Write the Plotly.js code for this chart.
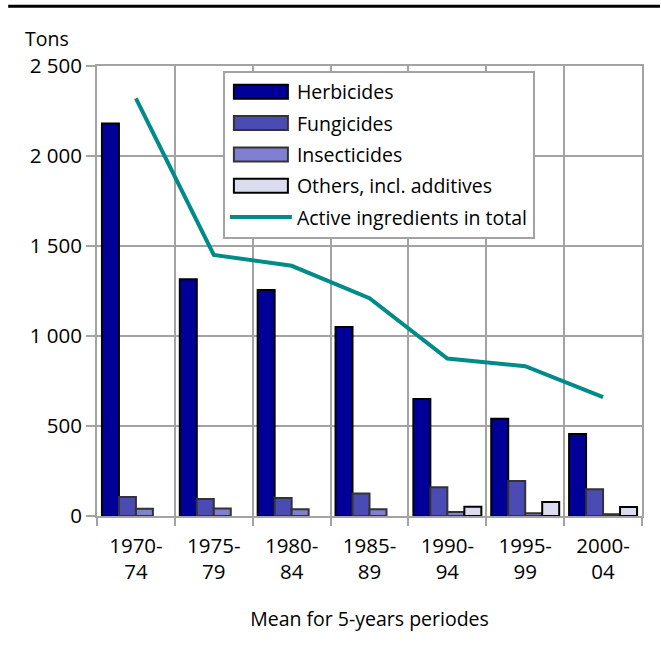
<!DOCTYPE html>
<html>
<head>
<meta charset="utf-8">
<script src="https://cdn.plot.ly/plotly-3.0.1.min.js"></script>
<style>html,body{margin:0;padding:0;background:#fff;}#chart{width:661px;height:647px;}</style>
</head>
<body>
<div id="chart"></div>
<script>
var periods = ["1970-74", "1975-79", "1980-84", "1985-89", "1990-94", "1995-99", "2000-04"];
var herbicides = [2180, 1315, 1255, 1050, 650, 540, 455];
var fungicides = [105, 95, 100, 125, 160, 195, 148];
var insecticides = [40, 42, 38, 37, 22, 15, 10];
var others = [null, null, null, null, 52, 78, 50];
var total = [2320, 1450, 1390, 1210, 875, 832, 660];
var yTickVals = [0, 500, 1000, 1500, 2000, 2500];
var yTickText = ["0", "500", "1 000", "1 500", "2 000", "2 500"];

var cats = periods.map(function (p) { return p.replace("-", "-<br>"); });
var FONT = "Open Sans, Noto Sans, sans-serif";
var GRID = "#a3a3a3";

function barTrace(name, vals, fill, line, grp) {
  return {
    type: "bar", name: name, x: cats, y: vals, legendgroup: grp,
    marker: { color: fill, line: { color: line, width: 2 } },
    hoverinfo: "skip"
  };
}

var data = [
  barTrace("Herbicides", herbicides, "#000099", "#000000", "a"),
  barTrace("Fungicides", fungicides, "#4b4bb4", "#333333", "b"),
  barTrace("Insecticides", insecticides, "#8080d2", "#333333", "c"),
  barTrace("Others, incl. additives", others, "#dcdcf0", "#000000", "d"),
  {
    type: "scatter", mode: "lines", name: "Active ingredients in total",
    x: cats, y: total, legendgroup: "e",
    line: { color: "#008b8b", width: 4 }, hoverinfo: "skip"
  }
];

var layout = {
  width: 661, height: 647,
  margin: { l: 97, r: 19, t: 66, b: 131 },
  paper_bgcolor: "#ffffff", plot_bgcolor: "#ffffff",
  font: { family: FONT, size: 19, color: "#000000" },
  barmode: "group", bargap: 0.127, bargroupgap: 0,
  showlegend: true,
  legend: {
    x: 0.231, y: 0.99, xanchor: "left", yanchor: "top",
    bgcolor: "#ffffff", bordercolor: GRID, borderwidth: 2,
    font: { family: FONT, size: 19.5, color: "#000000" },
    tracegroupgap: 3, itemwidth: 62
  },
  xaxis: {
    type: "category", tickson: "boundaries",
    ticks: "outside", ticklen: 8, tickwidth: 2, tickcolor: GRID,
    showgrid: true, gridcolor: GRID, gridwidth: 2,
    showline: true, linecolor: GRID, linewidth: 2, mirror: true,
    tickfont: { family: FONT, size: 20.5, color: "#000000" },
    ticklabelstandoff: 10,
    title: { text: "Mean for 5-years periodes", font: { family: FONT, size: 19.5, color: "#000000" }, standoff: 28 },
    fixedrange: true
  },
  yaxis: {
    range: [0, 2500], tickvals: yTickVals, ticktext: yTickText,
    ticks: "outside", ticklen: 9, tickwidth: 2, tickcolor: GRID,
    showgrid: true, gridcolor: GRID, gridwidth: 2, zeroline: false,
    showline: true, linecolor: GRID, linewidth: 2, mirror: true,
    tickfont: { family: FONT, size: 20.5, color: "#000000" },
    fixedrange: true
  },
  shapes: [
    { type: "line", xref: "paper", yref: "paper", x0: -0.163, x1: 1.033, y0: 1.133, y1: 1.133,
      line: { color: "#000000", width: 3 } }
  ],
  annotations: [
    { text: "Tons", xref: "paper", yref: "paper", x: -0.092, y: 1.06, xanchor: "center", yanchor: "middle",
      showarrow: false, font: { family: FONT, size: 19.5, color: "#000000" } }
  ]
};

Plotly.newPlot("chart", data, layout, { displayModeBar: false, staticPlot: true }).then(function (gd) {
  // widen the bar legend swatches to the reference's wide rectangles
  var traces = gd.querySelectorAll(".legend .traces");
  traces.forEach(function (t, i) {
    if (i < 4) {
      t.querySelectorAll(".legendpoints path").forEach(function (p) {
        p.setAttribute("d", "M-27,7H27V-7H-27Z");
      });
    }
  });
});
</script>
</body>
</html>
